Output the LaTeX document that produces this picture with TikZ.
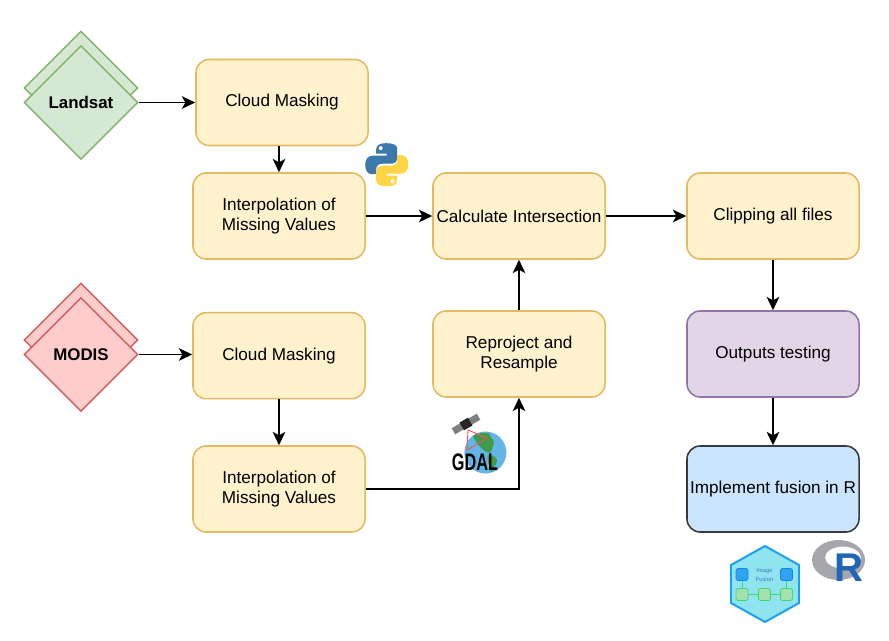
\documentclass[tikz,border=0pt]{standalone}
\usepackage{fontspec}
\setmainfont{Liberation Sans}
\usetikzlibrary{shapes.geometric}
\usetikzlibrary{arrows.meta}
\definecolor{boxfill}{HTML}{FFF2CC}
\definecolor{boxline}{HTML}{E3BA62}
\definecolor{testfill}{HTML}{E1D5E7}
\definecolor{testline}{HTML}{9673A6}
\definecolor{fusionfill}{HTML}{CCE5FF}
\definecolor{fusionline}{HTML}{36393D}
\definecolor{greenfill}{HTML}{D5E8D4}
\definecolor{greenline}{HTML}{82B366}
\definecolor{redfill}{HTML}{FFCCCC}
\definecolor{redline}{HTML}{D05C5C}
\definecolor{pyblue}{HTML}{3B78AE}
\definecolor{pyyellow}{HTML}{FFD445}
\definecolor{globefill}{HTML}{62B5E5}
\definecolor{landfill}{HTML}{3F9B4A}
\definecolor{hexfill}{HTML}{90E4F0}
\definecolor{hexline}{HTML}{1AA0F0}
\definecolor{hexgreen}{HTML}{A5E0AE}
\definecolor{hexgreenl}{HTML}{3DD870}
\definecolor{hexblue}{HTML}{2FA3F0}
\definecolor{hexbluel}{HTML}{1188E8}
\definecolor{hextext}{HTML}{3E7FC0}
\definecolor{rblue}{HTML}{2165B6}
\definecolor{rgrey}{HTML}{A5A7AD}
\tikzset{
    stepnode/.style = {rectangle, rounded corners=0.33cm, line width=1.1pt, draw=boxline, fill=boxfill, align=center,
        minimum width=4.3cm, minimum height=2.15cm, inner sep=0pt, font=\fontsize{12.2pt}{14.8pt}\selectfont},
    testnode/.style = {stepnode, draw=testline, fill=testfill},
    fusionnode/.style = {stepnode, draw=fusionline, fill=fusionfill},
    greend/.style = {diamond, aspect=1, line width=1pt, draw=greenline, fill=greenfill,
        minimum width=2.85cm, minimum height=2.85cm, inner sep=0pt, font=\fontsize{12pt}{15pt}\selectfont\bfseries},
    redd/.style = {greend, draw=redline, fill=redfill},
    edgen/.style = {-{Stealth[length=9.5pt,width=9pt,inset=2.5pt]}, line width=1.1pt, black},
    hexb/.style = {rectangle, rounded corners=0.04cm, draw=hexbluel, fill=hexblue, line width=0.5pt,
        minimum width=0.3cm, minimum height=0.3cm, inner sep=0pt},
    hexg/.style = {hexb, draw=hexgreenl, fill=hexgreen},
    hexe/.style = {line width=0.7pt, hexgreenl},
    pyeye/.style = {fill=white, draw=none}
}
\newcommand{\pysnake}{(-0.5,-21.5) .. controls (-8,-21.5) and (-10.5,-19) .. (-10.5,-15) -- (-10.5,-11) -- (0,-11) -- (0,-9) -- (-14,-9)
    .. controls (-19,-9) and (-21.5,-5) .. (-21.5,0) .. controls (-21.5,6) and (-19,9.5) .. (-14.5,9.5) -- (-10.5,9.5) -- (-10.5,4.5)
    .. controls (-10.5,0.5) and (-7.5,-1) .. (-4,-1) -- (5.5,-1) .. controls (8.5,-1) and (10.5,-3.5) .. (10.5,-6) -- (10.5,-16)
    .. controls (10.5,-19.5) and (7,-21.5) .. (-0.5,-21.5) -- cycle}

\begin{document}
\begin{tikzpicture}[x=0.025cm,y=-0.025cm]
  \useasboundingbox[fill=white] (0,0) rectangle (889,640);

  % inputs
  \node[greend] (landsatb) at (81,88) {};
  \node[greend] (landsat) at (81,102.5) {Landsat};
  \node[redd] (modisb) at (81,340) {};
  \node[redd] (modis) at (81,354.5) {MODIS};

  % steps
  \node[stepnode] (cloudl) at (282,102.5) {Cloud Masking};
  \node[stepnode] (interpl) at (279,216) {Interpolation of\\Missing Values};
  \node[stepnode] (calc) at (519,216) {Calculate Intersection};
  \node[stepnode] (clip) at (773,216) {Clipping all files};
  \node[stepnode] (reproj) at (519,354) {Reproject and\\Resample};
  \node[testnode] (tests) at (773,354) {Outputs testing};
  \node[fusionnode] (fusion) at (773,489) {Implement fusion in R};
  \node[stepnode] (cloudm) at (279,355.7) {Cloud Masking};
  \node[stepnode] (interpm) at (279,489) {Interpolation of\\Missing Values};

  \draw[edgen] (landsat) -- (cloudl);
  \draw[edgen] (cloudl.south -| interpl.north) -- (interpl.north);
  \draw[edgen] (interpl) -- (calc);
  \draw[edgen] (calc) -- (clip);
  \draw[edgen] (clip) -- (tests);
  \draw[edgen] (tests) -- (fusion);
  \draw[edgen] (modis) -- (modis -| cloudm.west);
  \draw[edgen] (cloudm) -- (interpm);
  \draw[edgen] (interpm) -| (reproj);
  \draw[edgen] (reproj) -- (calc);

  % python
  \begin{scope}[shift={(386.7,164.7)}]
    \fill[pyblue] \pysnake;
    \fill[pyeye] (-6,-16.5) circle (2);
    \begin{scope}[xscale=-1,yscale=-1]
      \fill[pyyellow] \pysnake;
      \fill[pyeye] (-6,-16.5) circle (2);
    \end{scope}
  \end{scope}

  % gdal
  \fill[globefill] (485.4,452.5) circle (21);
  \fill[landfill] (473,436) .. controls (482,431) and (492,432) .. (491,438) .. controls (497,441) and (492,449) .. (490,453)
    .. controls (484,452) and (478,446) .. (473,436) -- cycle;
  \fill[landfill] (488,455) .. controls (496,455) and (499,460) .. (496,464) .. controls (493,468) and (492,472) .. (491,472) .. controls (490,466) and (486,460) .. (488,455) -- cycle;
  \draw[red!70!white, line width=0.6pt] (468,430) -- (467,450) -- (487,438) -- cycle;
  \fill[gray, rotate around={30:(466,424)}] (451.5,420.5) rectangle (461,427.5) (471,420.5) rectangle (480.5,427.5);
  \fill[black!85, rotate around={30:(466,424)}] (461,419.5) rectangle (471,428.5);
  \node[inner sep=0pt, font=\fontsize{17pt}{17pt}\selectfont\bfseries] (gdal) at (475,462.5) {\scalebox{0.68}[1]{GDAL}};

  % hex logo
  \draw[line width=1.4pt, draw=hexline, fill=hexfill] (765,546) -- (799,565) -- (799,603) -- (765,622) -- (731,603) -- (731,565) -- cycle;
  \node[hexb] (hexbl) at (742,574.5) {};
  \node[hexb] (hexbr) at (786.5,574.5) {};
  \node[hexg] (hexgl) at (742,594.5) {};
  \node[hexg] (hexgm) at (764.5,594.5) {};
  \node[hexg] (hexgr) at (786.5,594.5) {};
  \draw[hexe] (hexbl) -- (hexgl);
  \draw[hexe] (hexbr) -- (hexgr);
  \draw[hexe] (hexgl) -- (hexgm);
  \draw[hexe] (hexgm) -- (hexgr);
  \node[inner sep=0pt, align=center, text=hextext, font=\fontsize{4.2pt}{6pt}\selectfont] (hextxt) at (764.5,575) {Image\\Fusion};

  % r logo
  \fill[rgrey, even odd rule] (838.5,560) ellipse (26.5 and 20) (843,557.5) ellipse (18 and 11);
  \node[inner sep=0pt, text=rblue, font=\fontsize{28.5pt}{28.5pt}\selectfont\bfseries] (rlogo) at (848.5,567.5) {R};
\end{tikzpicture}
\end{document}
